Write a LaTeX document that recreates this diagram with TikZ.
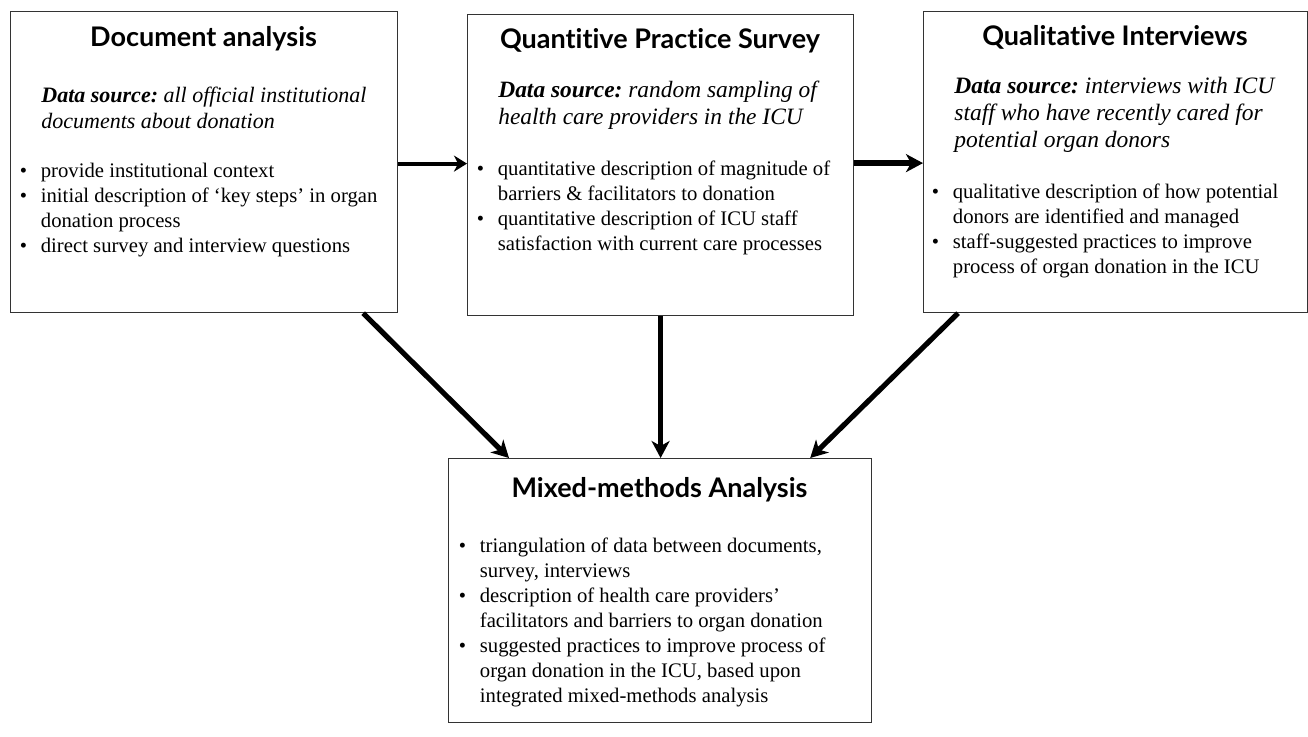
\documentclass[tikz,border=0pt]{standalone}
\usepackage{fontspec}
\setmainfont{Liberation Serif}
\newfontfamily\headfont{Lato}[Ligatures=NoCommon]
\usetikzlibrary{arrows.meta}
\frenchspacing

% bullet with hanging indent (use \newline inside, not \\)
\newcommand{\bitem}{\par\hangindent=10.5pt\hangafter=1\noindent\makebox[10.5pt][l]{\textbullet}}
\newcommand{\textblock}[1]{\begin{minipage}[t]{200pt}\raggedright #1\par\end{minipage}}

\tikzset{
  box/.style={draw=black!80, line width=0.6pt, anchor=north west, inner sep=0pt},
  title/.style={anchor=base, inner sep=0pt, font=\headfont\bfseries\fontsize{13.5}{16}\selectfont},
  source/.style={anchor=base west, inner sep=0pt},
  points/.style={anchor=base west, inner sep=0pt, font=\fontsize{10.35}{12.5}\selectfont},
  flow/.style={-{Stealth[length=8.5pt,width=9pt,inset=2.5pt]}, line width=2.6pt},
  link/.style={-{Stealth[length=6.5pt,width=8pt,inset=2pt]}, line width=2pt},
}

\begin{document}
\begin{tikzpicture}[x=0.5pt,y=-0.5pt]
  \useasboundingbox (0,0) rectangle (1308,736);

  % the four boxes
  \node[box, minimum width=193.5pt, minimum height=150.5pt] (doc) at (10,11) {};
  \node[box, minimum width=193pt, minimum height=150.5pt] (survey) at (467,14) {};
  \node[box, minimum width=192pt, minimum height=150.5pt] (interviews) at (923,11) {};
  \node[box, minimum width=211.5pt, minimum height=132pt] (mixed) at (448,458) {};

  % titles
  \node[title] (docT) at (203.5,46) {Document analysis};
  \node[title] (surveyT) at (660,48) {Quantitive Practice Survey};
  \node[title] (interviewsT) at (1115,45) {Qualitative Interviews};
  \node[title] (mixedT) at (659.5,497) {Mixed-methods Analysis};

  % data sources
  \node[source, font=\fontsize{11}{13}\selectfont\itshape] (docS) at (41,102) {\textblock{%
    \textbf{Data source:} all official institutional\newline documents about donation}};
  \node[source, font=\fontsize{11.7}{13.5}\selectfont\itshape] (surveyS) at (498,97) {\textblock{%
    \textbf{Data source:} random sampling of\newline health care providers in the ICU}};
  \node[source, font=\fontsize{11.75}{13.5}\selectfont\itshape] (interviewsS) at (954,93) {\textblock{%
    \textbf{Data source:} interviews with ICU\newline staff who have recently cared for\newline potential organ donors}};

  % findings
  \node[points] (docP) at (19.5,177) {\textblock{%
    \bitem provide institutional context
    \bitem initial description of `key steps' in organ\newline donation process
    \bitem direct survey and interview questions}};
  \node[points] (surveyP) at (476.5,175) {\textblock{%
    \bitem quantitative description of magnitude of\newline barriers \& facilitators to donation
    \bitem quantitative description of ICU staff\newline satisfaction with current care processes}};
  \node[points] (interviewsP) at (931.5,198) {\textblock{%
    \bitem qualitative description of how potential\newline donors are identified and managed
    \bitem staff-suggested practices to improve\newline process of organ donation in the ICU}};
  \node[points] (mixedP) at (458.5,552) {\textblock{%
    \bitem triangulation of data between documents,\newline survey, interviews
    \bitem description of health care providers'\newline facilitators and barriers to organ donation
    \bitem suggested practices to improve process of\newline organ donation in the ICU, based upon\newline integrated mixed-methods analysis}};

  % arrows
  \draw[link] ([yshift=-0.75pt]doc.east) -- ([yshift=-0.75pt]doc.east -| survey.west);
  \draw[flow, line width=3pt] ([yshift=-0.5pt]interviews.west -| survey.east) -- ([yshift=-0.5pt]interviews.west);
  \draw[flow] ([xshift=-17.5pt]doc.south east) -- ([xshift=30.5pt]mixed.north west);
  \draw[flow] (survey.south) -- (survey.south |- mixed.north);
  \draw[flow] ([xshift=17.5pt]interviews.south west) -- ([xshift=-31pt]mixed.north east);
\end{tikzpicture}
\end{document}
